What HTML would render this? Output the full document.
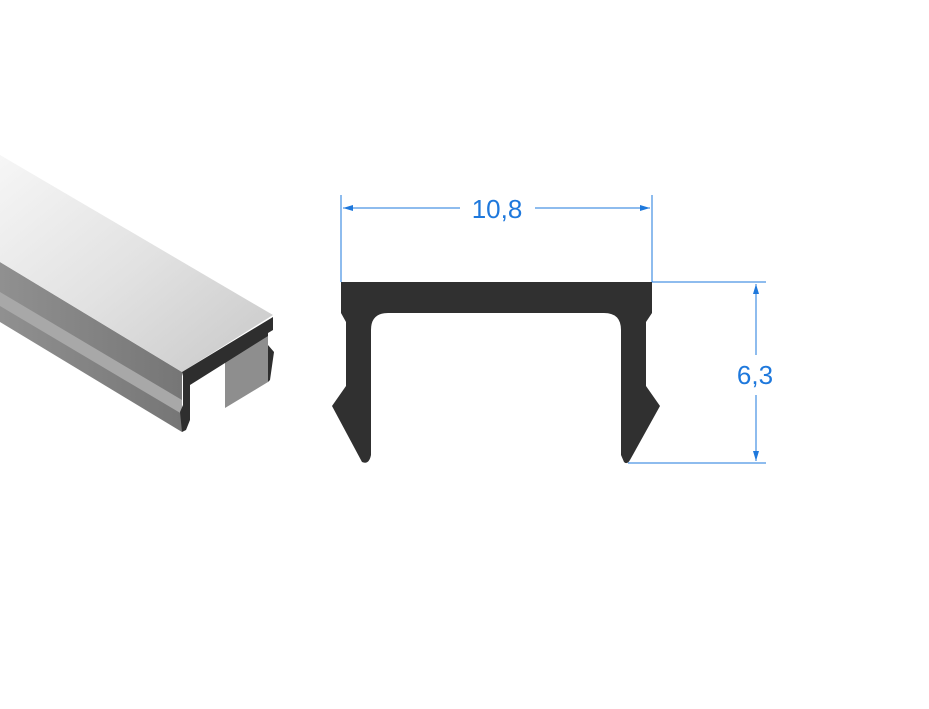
<!DOCTYPE html>
<html><head><meta charset="utf-8"><style>
html,body{margin:0;padding:0;background:#fff;}
svg{display:block;}
text{font-family:"Liberation Sans",sans-serif;}
</style></head><body>
<svg width="929" height="709" viewBox="0 0 929 709" xmlns="http://www.w3.org/2000/svg">
<defs>
<linearGradient id="top" x1="0" y1="0" x2="1" y2="1">
<stop offset="0" stop-color="#f6f6f6"/><stop offset="0.5" stop-color="#e2e2e2"/><stop offset="1" stop-color="#c8c8c8"/>
</linearGradient>
<linearGradient id="side" x1="0" y1="0" x2="1" y2="0">
<stop offset="0" stop-color="#909090"/><stop offset="1" stop-color="#767676"/>
</linearGradient>
<marker id="ar" viewBox="0 0 10 6" refX="10" refY="3" markerWidth="14" markerHeight="6" markerUnits="userSpaceOnUse" orient="auto-start-reverse">
<path d="M0,0 L10,3 L0,6 z" fill="#1e78dc"/></marker>
</defs>
<polygon points="0,262 182,372 182,432 0,322" fill="url(#side)"/>
<polygon points="0,292 182,400 182,414 0,306" fill="#a8a8a8"/>
<polygon points="225,355 268,330 268,382 225,408" fill="#8e8e8e"/>
<polygon points="0,155 273,315 182,372 0,262" fill="url(#top)"/>
<path d="M182,372 L273,317 L273,330 L268,333 L268,345 L274,352 L270,380 L268,382 L268,336 L190,385 L190,420 L186,430 L182,432 L180,412 L183,405 L183,376 Z" fill="#2e2e2e"/>
<path d="M341,282 L652,282 L652,313 L646,322 L646,386 L660,406 L630,460 Q627,465 624,462 L621,455 L621,330 Q621,313 604,313 L388,313 Q371,313 371,330 L371,455 Q369,465 362,462 L332,406 L346,386 L346,322 L341,313 Z" fill="#303030"/>
<g stroke="#1e78dc" stroke-width="1" fill="none">
<line x1="341" y1="195" x2="341" y2="282"/>
<line x1="652" y1="195" x2="652" y2="282"/>
<line x1="343" y1="208" x2="460" y2="208" marker-start="url(#ar)"/>
<line x1="535" y1="208" x2="650" y2="208" marker-end="url(#ar)"/>
<line x1="652" y1="282" x2="766" y2="282"/>
<line x1="628" y1="463" x2="766" y2="463"/>
<line x1="756" y1="284" x2="756" y2="355" marker-start="url(#ar)"/>
<line x1="756" y1="395" x2="756" y2="461" marker-end="url(#ar)"/>
</g>
<text x="497" y="218" font-size="26" fill="#1e78dc" text-anchor="middle">10,8</text>
<text x="755" y="384" font-size="26" fill="#1e78dc" text-anchor="middle">6,3</text>
</svg>
</body></html>
